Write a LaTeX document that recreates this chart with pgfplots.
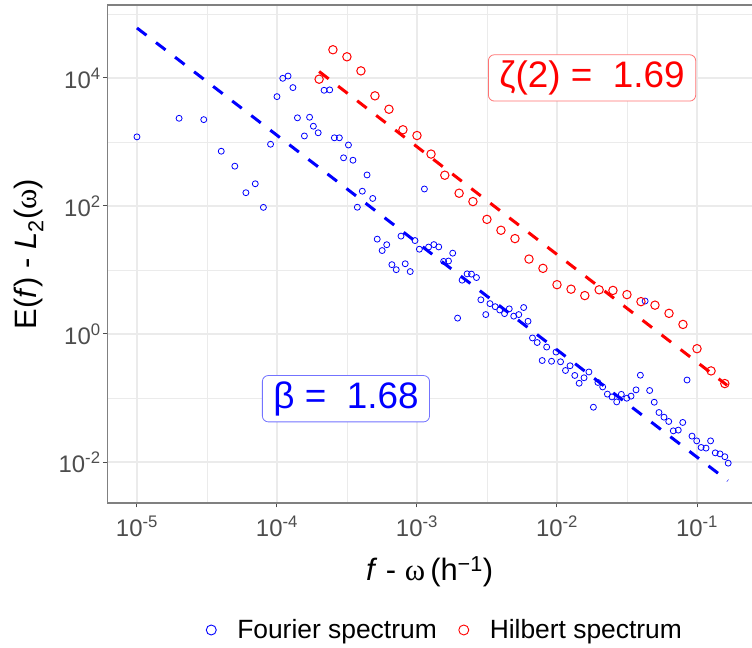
\documentclass[border=0pt]{standalone}
\usepackage{fontspec}
\setmainfont{Liberation Sans}
\newfontfamily\symf{Liberation Serif}
\usepackage{pgfplots}
\pgfplotsset{compat=1.18}
\definecolor{tickgray}{HTML}{4D4D4D}
\definecolor{gridgray}{HTML}{EBEBEB}
\begin{document}
\begin{tikzpicture}
\path[use as bounding box] (-107.3bp,-145bp) rectangle (644.7bp,503bp);
\begin{axis}[
    name=ax,
    scale only axis,
    width=644.7bp, height=498bp,
    xmode=log, ymode=log,
    xmin=6.14e-6, xmax=0.247,
    ymin=2.29e-3, ymax=1.377e5,
    axis line style={draw=none},
    tick pos=left,
    tick align=outside,
    major tick length=4.5bp,
    minor tick length=0pt,
    tick style={black!70, line width=1bp},
    xtick={1e-5,1e-4,1e-3,1e-2,1e-1},
    xticklabels={10\textsuperscript{-5},10\textsuperscript{-4},10\textsuperscript{-3},10\textsuperscript{-2},10\textsuperscript{-1}},
    ytick={1e-2,1,1e2,1e4},
    yticklabels={10\textsuperscript{-2},10\textsuperscript{0},10\textsuperscript{2},10\textsuperscript{4}},
    minor xtick={3.162e-5,3.162e-4,3.162e-3,3.162e-2},
    minor ytick={1e-1,1e1,1e3,1e5},
    grid=both,
    major grid style={gridgray, line width=1.2bp},
    minor grid style={gridgray, line width=0.6bp},
    tick label style={font=\fontsize{24}{24}\selectfont, text=tickgray},
    xticklabel style={yshift=-5bp},
    yticklabel style={inner xsep=2bp},
    xlabel={\textit{f} - {\symf ω}\,(h\textsuperscript{−1})},
    ylabel={E(\textit{f}) - \textit{L}\textsubscript{2}({\symf ω})},
    label style={font=\fontsize{31}{31}\selectfont},
    xlabel style={at={(axis description cs:0.5,-0.1386)}, anchor=center},
    ylabel style={at={(axis description cs:-0.1215,0.5)}, anchor=center},
    legend columns=2,
    legend style={at={(axis description cs:0.524,-0.255)}, anchor=center, draw=none, fill=none,
        font=\fontsize{26.5}{26.5}\selectfont,
        /tikz/every even column/.append style={column sep=20bp}},
    legend image post style={mark size=5bp, line width=0.9bp},
]
% Fourier spectrum
\addplot[only marks, mark=o, mark size=3bp, blue, line width=0.8bp] coordinates {
(1e-5,1200) (2e-5,2340) (3e-5,2230) (4e-5,716) (5e-5,418) (6e-5,161) (7e-5,222) (8e-5,95)
(9e-5,920) (1e-4,5100) (1.1e-4,9860) (1.2e-4,10700) (1.3e-4,7060) (1.4e-4,2380)
(1.57e-4,1240) (1.71e-4,2430) (1.82e-4,1760) (1.97e-4,1390) (2.17e-4,6410) (2.38e-4,6500)
(2.57e-4,1160) (2.79e-4,1160) (2.99e-4,565) (3.24e-4,895) (3.49e-4,518) (3.75e-4,95.5)
(4.07e-4,170) (4.4e-4,305) (4.83e-4,131) (5.2e-4,30.3) (5.64e-4,20.1) (6.08e-4,24.8)
(6.62e-4,12.1) (7.11e-4,10.1) (7.69e-4,33.8) (8.24e-4,12.5) (8.95e-4,9.44) (9.68e-4,28.8)
(1.04e-3,21.1) (1.13e-3,184) (1.21e-3,22.8) (1.32e-3,24.9) (1.43e-3,22.9) (1.55e-3,13.6)
(1.68e-3,13.8) (1.8e-3,18.3) (1.95e-3,1.77) (2.1e-3,6.93) (2.28e-3,8.69) (2.45e-3,8.61)
(2.66e-3,7.61) (2.86e-3,3.42) (3.1e-3,2.01) (3.32e-3,2.98) (3.62e-3,2.67) (3.9e-3,2.37)
(4.22e-3,2.08) (4.56e-3,2.47) (4.91e-3,1.90) (5.33e-3,2.01) (5.78e-3,2.59) (6.21e-3,1.58)
(6.68e-3,0.867) (7.22e-3,0.736) (7.84e-3,0.385) (8.44e-3,0.625) (9.14e-3,0.375) (9.84e-3,0.522)
(1.06e-2,0.368) (1.15e-2,0.269) (1.24e-2,0.319) (1.34e-2,0.225) (1.44e-2,0.170) (1.56e-2,0.207)
(1.69e-2,0.255) (1.82e-2,0.0718) (1.96e-2,0.175) (2.12e-2,0.149) (2.29e-2,0.115) (2.47e-2,0.104)
(2.67e-2,0.0869) (2.88e-2,0.114) (3.15e-2,0.0993) (3.38e-2,0.107) (3.67e-2,0.134) (3.94e-2,0.227)
(4.26e-2,3.27) (4.59e-2,0.131) (4.95e-2,0.0859) (5.35e-2,0.0594) (5.81e-2,0.0502) (6.28e-2,0.043)
(6.77e-2,0.0307) (7.35e-2,0.0315) (7.91e-2,0.0415) (8.49e-2,0.191) (9.21e-2,0.0254) (9.95e-2,0.0214)
(0.107,0.0169) (0.116,0.0165) (0.125,0.0214) (0.135,0.0139) (0.146,0.0134) (0.158,0.0121)
(0.167,0.0096)
};
\addlegendentry{\hspace{19bp}Fourier spectrum}
% Hilbert spectrum
\addplot[only marks, mark=o, mark size=4.2bp, red, line width=1bp] coordinates {
(2.0e-4,9550) (2.51e-4,27540) (3.16e-4,21380) (3.98e-4,12880) (5.01e-4,5250) (6.31e-4,3240)
(7.94e-4,1549) (1e-3,1259) (1.26e-3,646) (1.58e-3,302) (2.0e-3,158) (2.51e-3,117)
(3.16e-3,61.7) (3.98e-3,41.7) (5.01e-3,30.9) (6.31e-3,14.8) (7.94e-3,10.6) (1e-2,5.89)
(1.26e-2,5.01) (1.58e-2,3.98) (2.0e-2,4.90) (2.51e-2,4.79) (3.16e-2,4.12) (3.98e-2,3.20)
(5.01e-2,2.82) (6.31e-2,2.10) (7.94e-2,1.41) (0.1,0.589) (0.126,0.265) (0.158,0.168)
};
\addlegendentry{\hspace{19bp}Hilbert spectrum}
% power-law fits
\addplot[blue, line width=3bp, dash pattern=on 12bp off 12bp, forget plot] coordinates {(1e-5,60260) (0.166,0.0051)};
\addplot[red, line width=3bp, dash pattern=on 12bp off 12bp, forget plot] coordinates {(2e-4,12590) (0.164,0.158)};
\node[draw=red!55, line width=0.8bp, rounded corners=6bp, fill=white, text=red,
      font=\fontsize{37}{37}\selectfont, inner xsep=11bp, inner ysep=6bp]
      at (axis cs:0.0178,1e4) {ζ(2) =\ \ 1.69};
\node[draw=blue!55, line width=0.8bp, rounded corners=6bp, fill=white, text=blue,
      font=\fontsize{37}{37}\selectfont, inner xsep=11bp, inner ysep=6bp]
      at (axis cs:3.11e-4,0.0975) {β =\ \ 1.68};
\end{axis}
\draw[black!50, line width=1.2bp] (ax.south east) -- (ax.south west) -- (ax.north west) -- (ax.north east);
\end{tikzpicture}
\end{document}
